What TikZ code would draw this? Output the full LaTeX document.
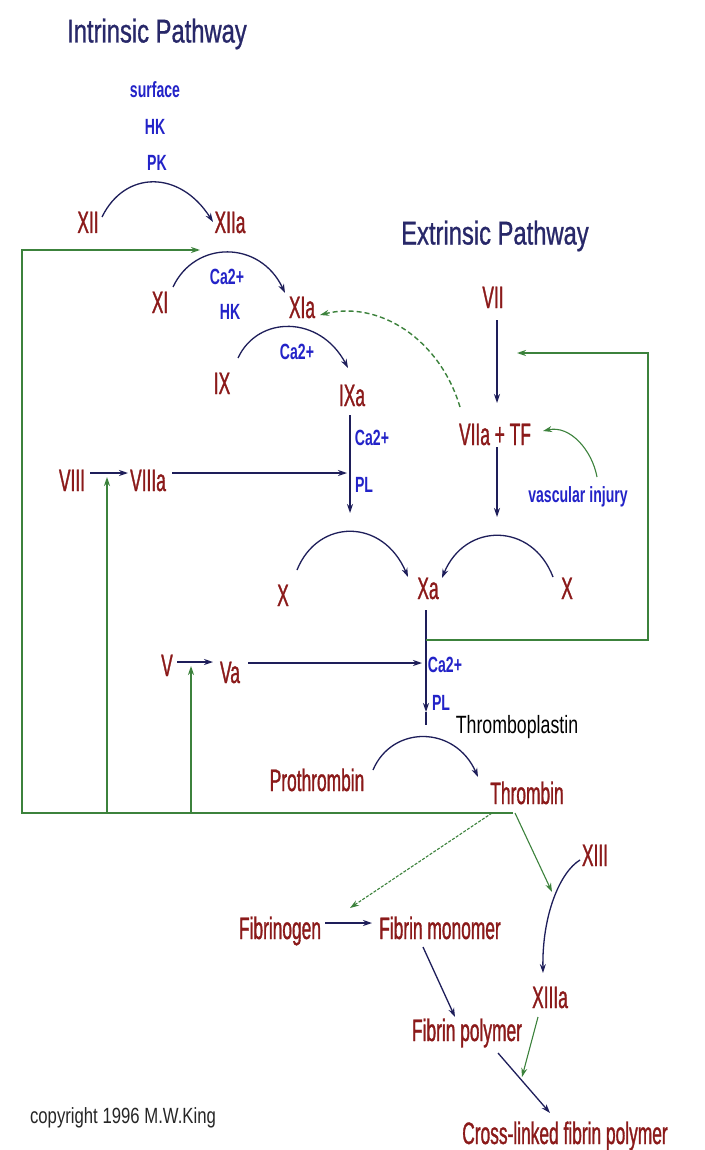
\documentclass[tikz,border=0pt]{standalone}
\usepackage{fontspec}
\setmainfont{Liberation Sans}
\newfontfamily\redfont[FakeStretch=0.56,FakeBold=1]{Liberation Sans}
\newfontfamily\titlefont[FakeStretch=0.72,FakeBold=0.8]{Liberation Sans}
\newfontfamily\bluefont[FakeStretch=0.64]{Liberation Sans Bold}
\newfontfamily\tpfont[FakeStretch=0.71]{Liberation Sans}
\newfontfamily\cpfont[FakeStretch=0.76]{Liberation Sans}
\usetikzlibrary{arrows.meta,calc}
\definecolor{fred}{RGB}{139,26,26}
\definecolor{fblue}{RGB}{35,35,200}
\definecolor{ftitle}{RGB}{40,40,105}
\definecolor{navy}{RGB}{30,30,90}
\definecolor{fgreen}{RGB}{60,130,60}
\begin{document}
\begin{tikzpicture}[x=1pt,y=-1pt,
  fac/.style={inner sep=0pt,text height=25pt,text depth=3pt,text=fred,font=\redfont\fontsize{31}{31}\selectfont},
  cof/.style={inner sep=0pt,text height=16pt,text depth=1pt,text=fblue,font=\bluefont\fontsize{22}{22}\selectfont},
  ttl/.style={inner sep=0pt,text height=25pt,text depth=2pt,text=ftitle,font=\titlefont\fontsize{33}{33}\selectfont},
  tpl/.style={inner sep=0pt,text height=19pt,text depth=1pt,text=black,font=\tpfont\fontsize{25}{25}\selectfont},
  cpl/.style={inner sep=0pt,text height=16pt,text depth=0pt,text=black!85,font=\cpfont\fontsize{22}{22}\selectfont},
  nv/.style={draw=navy,line width=1.3pt},
  gr/.style={draw=fgreen,line width=1.4pt},
  grd/.style={gr,dash pattern=on 5pt off 3pt},
  tip/.style={-{Stealth[length=9pt,width=6pt]}}
]
\useasboundingbox (0,0) rectangle (704,1150);
\fill[white] (0,0) rectangle (704,1150);

% titles and cofactors
\node[ttl] (t1) at (157,31) {Intrinsic Pathway};
\node[ttl] (t2) at (495,233) {Extrinsic Pathway};
\node[cof] (surf) at (155,90) {surface};
\node[cof] (hk1) at (155,127) {HK};
\node[cof] (pk) at (157,163) {PK};
\node[cof] (ca1) at (227,277) {Ca2+};
\node[cof] (hk2) at (230,312) {HK};
\node[cof] (ca2) at (297,352) {Ca2+};
\node[cof] (ca3) at (372,438) {Ca2+};
\node[cof] (pl1) at (364,485) {PL};
\node[cof] (ca4) at (445,665) {Ca2+};
\node[cof] (pl2) at (441,703) {PL};
\node[cof] (vasc) at (578,495) {vascular injury};
\node[tpl] (tp) at (517,724) {Thromboplastin};
\node[cpl] (cp) at (123,1115) {copyright 1996 M.W.King};

% factors
\node[fac] (XII) at (88,222) {XII};
\node[fac] (XIIa) at (230,222) {XIIa};
\node[fac] (XI) at (160,302) {XI};
\node[fac] (XIa) at (302,307) {XIa};
\node[fac] (IX) at (222,383) {IX};
\node[fac] (IXa) at (352,395) {IXa};
\node[fac] (VII) at (493,297) {VII};
\node[fac] (VIIaTF) at (495,434) {VIIa + TF};
\node[fac] (VIII) at (72,480) {VIII};
\node[fac] (VIIIa) at (148,480) {VIIIa};
\node[fac] (X1) at (283,595) {X};
\node[fac] (Xa) at (428,588) {Xa};
\node[fac] (X2) at (567,588) {X};
\node[fac] (V) at (167,665) {V};
\node[fac] (Va) at (230,672) {Va};
\node[fac] (Pro) at (317,780) {Prothrombin};
\node[fac] (Thr) at (527,793) {Thrombin};
\node[fac] (XIII) at (595,855) {XIII};
\node[fac] (Fib) at (280,928) {Fibrinogen};
\node[fac] (FM) at (440,928) {Fibrin monomer};
\node[fac] (XIIIa) at (550,997) {XIIIa};
\node[fac] (FP) at (467,1030) {Fibrin polymer};
\node[fac] (CL) at (565,1133) {Cross-linked fibrin polymer};

% coordinates for free ends
\coordinate (fbL) at (22,813);
\coordinate (fbT) at (22,250);
\coordinate (fbTip) at (200,250);
\coordinate (b8) at (107,813);
\coordinate (b8t) at (107,477);
\coordinate (b5) at (191,813);
\coordinate (b5t) at (191,666);
\coordinate (ixEnd) at (350,513);
\coordinate (ixIn) at (347,473);
\coordinate (xaIn) at (422,663);
\coordinate (xaMid) at (426,712);
\coordinate (xaEnd) at (426,725);
\coordinate (box1) at (426,640);
\coordinate (box2) at (648,640);
\coordinate (box3) at (648,353);
\coordinate (box4) at (517,353);
\coordinate (vEnd) at (497,517);
\coordinate (c13) at (552,892);
\coordinate (cx) at (522,1077);

% reaction arcs
\draw[nv,tip] ($(XII)+(14,-5)$) .. controls ($(XII)+(37,-52)$) and ($(XIIa)+(-50,-52)$) .. ($(XIIa)+(-17,0)$);
\draw[nv,tip] ($(XI)+(13,-15)$) .. controls ($(XI)+(35,-62)$) and ($(XIa)+(-42,-67)$) .. ($(XIa)+(-17,-14)$);
\draw[nv,tip] ($(IX)+(16,-25)$) .. controls ($(IX)+(36,-68)$) and ($(IXa)+(-32,-80)$) .. ($(IXa)+(-4,-27)$);
\draw[nv,tip] ($(X1)+(14,-25)$) .. controls ($(X1)+(35,-77)$) and ($(Xa)+(-45,-70)$) .. ($(Xa)+(-20,-11)$);
\draw[nv,tip] ($(X2)+(-14,-11)$) .. controls ($(X2)+(-35,-66)$) and ($(Xa)+(37,-66)$) .. ($(Xa)+(14,-10)$);
\draw[nv,tip] ($(Pro)+(56,-10)$) .. controls ($(Pro)+(75,-55)$) and ($(Thr)+(-72,-68)$) .. ($(Thr)+(-49,-16)$);

% straight navy arrows
\draw[nv,tip] ($(VIII)+(18,-7)$) -- ($(VIIIa)+(-20,-7)$);
\draw[nv,tip] ($(VIIIa)+(24,-7)$) -- (ixIn);
\draw[nv,tip] ($(IXa)+(-2,20)$) -- (ixEnd);
\draw[nv,tip] ($(VII)+(4,23)$) -- ($(VIIaTF)+(2,-31)$);
\draw[nv,tip] ($(VIIaTF)+(2,13)$) -- (vEnd);
\draw[nv,tip] ($(V)+(10,-3)$) -- ($(Va)+(-17,-10)$);
\draw[nv,tip] ($(Va)+(18,-9)$) -- (xaIn);
\draw[nv,tip] ($(Xa)+(-2,22)$) -- (xaMid);
\draw[nv] (xaMid) -- (xaEnd);
\draw[nv,tip] ($(Fib)+(45,-5)$) -- ($(FM)+(-68,-5)$);
\draw[nv,tip] ($(FM)+(-17,19)$) -- ($(FP)+(-12,-13)$);
\draw[nv,tip] ($(FP)+(31,23)$) -- ($(CL)+(-15,-20)$);
\draw[nv,tip] ($(XIII)+(-15,5)$) .. controls (560,872) and (542,915) .. ($(XIIIa)+(-7,-24)$);

% green feedback
\draw[gr,tip] ($(Thr)+(-14,20)$) -- (fbL) -- (fbT) -- (fbTip);
\draw[gr,tip] (b8) -- (b8t);
\draw[gr,tip] (b5) -- (b5t);
\draw[gr,tip] (box1) -- (box2) -- (box3) -- (box4);
\draw[grd,tip] ($(VIIaTF)+(-35,-27)$) .. controls (440,340) and (380,300) .. ($(XIa)+(18,8)$);
\draw[gr,line width=1.1pt,tip] ($(vasc)+(19,-18)$) .. controls (592,450) and (570,425) .. ($(VIIaTF)+(48,-3)$);
\draw[gr,line width=1.1pt,dash pattern=on 3pt off 1.5pt,tip] ($(Thr)+(-35,20)$) -- ($(Fib)+(70,-20)$);
\draw[gr,line width=1.1pt,tip] ($(Thr)+(-12,20)$) -- (c13);
\draw[gr,line width=1.1pt,tip] ($(XIIIa)+(-12,20)$) -- (cx);
\end{tikzpicture}
\end{document}
